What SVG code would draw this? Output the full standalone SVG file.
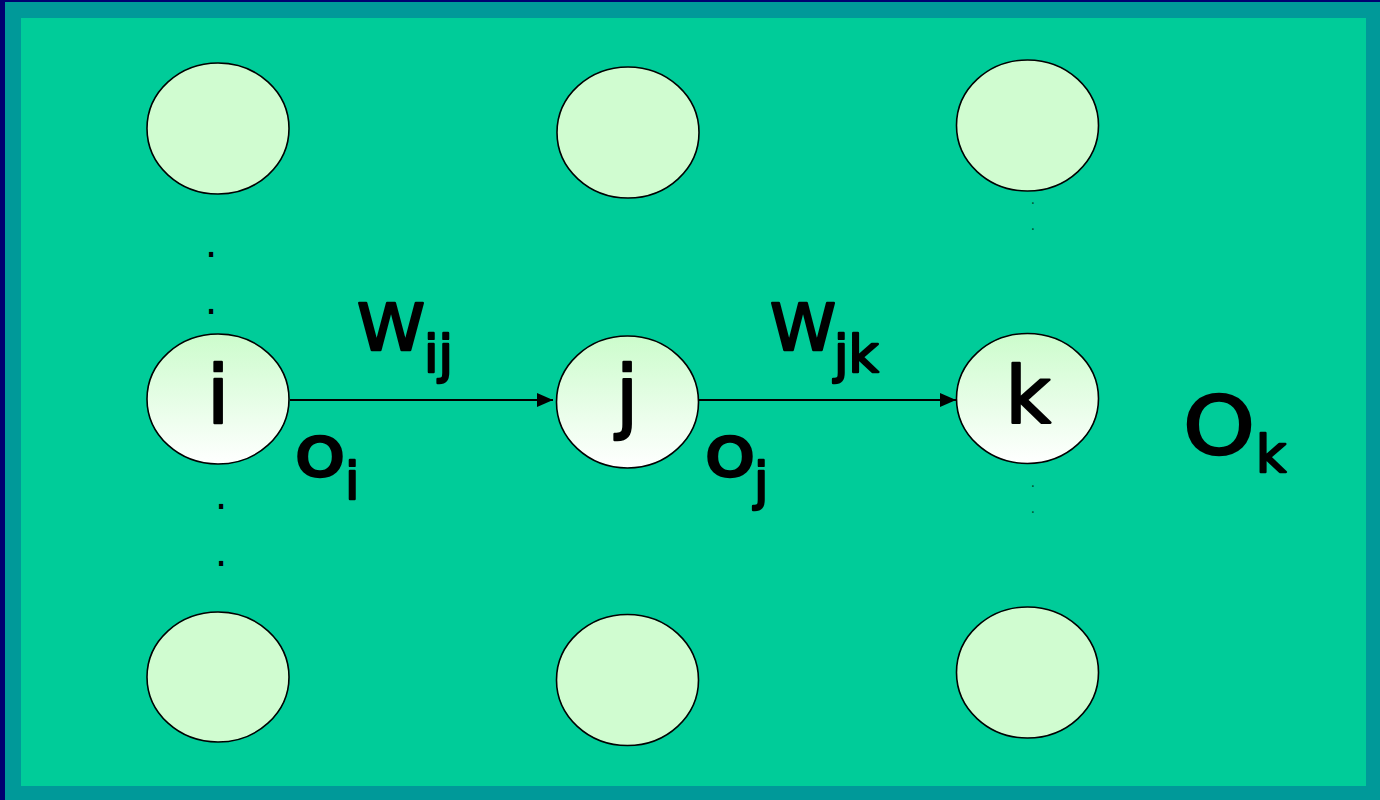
<svg xmlns="http://www.w3.org/2000/svg" width="1380" height="800" viewBox="0 0 1380 800">
<style>
.n{stroke:#000;stroke-width:1.6}
.plain{fill:#D0FCD0}
.grad{fill:url(#g)}
.t{font-family:"DejaVu Sans","Verdana",sans-serif;font-weight:normal;fill:#000;stroke:#000;stroke-width:2.4;stroke-linejoin:round}
.dot{font-family:"DejaVu Sans",sans-serif;text-anchor:middle}
.c{stroke:#000;stroke-width:2;fill:none;marker-end:url(#ah)}
</style>
<defs>
<linearGradient id="g" x1="0" y1="0" x2="0" y2="1">
<stop offset="0" stop-color="#CCFCCC"/>
<stop offset="1" stop-color="#FFFFFF"/>
</linearGradient>
<marker id="ah" markerWidth="16" markerHeight="14" refX="16" refY="7" orient="auto" markerUnits="userSpaceOnUse">
<path d="M0,0 L16,7 L0,14 Z" fill="#000"/>
</marker>
</defs>
<rect x="0" y="0" width="1380" height="800" fill="#000070"/>
<rect x="5" y="2" width="1375" height="798" fill="#009999"/>
<rect x="21" y="18" width="1345" height="768" fill="#00CC99"/>

<g id="connectors">
<line class="c" x1="290" y1="400" x2="553" y2="400"/>
<line class="c" x1="699" y1="400" x2="956" y2="400"/>
</g>

<g id="n-top-1"><ellipse class="n plain" cx="218" cy="128.5" rx="71" ry="65.5"/></g>
<g id="n-top-2"><ellipse class="n plain" cx="628" cy="132.5" rx="71" ry="65.5"/></g>
<g id="n-top-3"><ellipse class="n plain" cx="1027.5" cy="125.5" rx="71" ry="65.5"/></g>

<g id="node-i"><ellipse class="n grad" cx="218" cy="399" rx="71" ry="65"/><text class="t" x="218" y="423" font-size="80" text-anchor="middle">i</text></g>
<g id="node-j"><ellipse class="n grad" cx="627.5" cy="402" rx="71" ry="66"/><text class="t" x="627" y="423" font-size="80" text-anchor="middle">j</text></g>
<g id="node-k"><ellipse class="n grad" cx="1027.5" cy="398.5" rx="71" ry="65"/><text class="t" x="1028" y="423" font-size="78" text-anchor="middle">k</text></g>

<g id="n-bot-1"><ellipse class="n plain" cx="218" cy="677" rx="71" ry="65"/></g>
<g id="n-bot-2"><ellipse class="n plain" cx="627.5" cy="680" rx="71" ry="65.5"/></g>
<g id="n-bot-3"><ellipse class="n plain" cx="1027.5" cy="672.5" rx="71" ry="65.5"/></g>

<g id="labels">
<text class="t" x="357" y="350" font-size="64" textLength="68" lengthAdjust="spacingAndGlyphs">W</text>
<text class="t" x="424" y="372" font-size="52">ij</text>
<text class="t" x="770" y="350" font-size="64" textLength="66" lengthAdjust="spacingAndGlyphs">W</text>
<text class="t" x="834" y="372" font-size="52">jk</text>
<text class="t" x="294" y="476" font-size="72" textLength="52" lengthAdjust="spacingAndGlyphs">o</text>
<text class="t" x="345" y="499" font-size="52">i</text>
<text class="t" x="704" y="476" font-size="72" textLength="52" lengthAdjust="spacingAndGlyphs">o</text>
<text class="t" x="754" y="499" font-size="52">j</text>
<text class="t" x="1183" y="454" font-size="80" textLength="72" lengthAdjust="spacingAndGlyphs">O</text>
<text class="t" x="1256" y="472" font-size="52">k</text>
</g>

<g id="ellipsis">
<text class="dot" x="211" y="257" font-size="40" fill="#000">.</text>
<text class="dot" x="211" y="314" font-size="40" fill="#000">.</text>
<text class="dot" x="221" y="509" font-size="40" fill="#000">.</text>
<text class="dot" x="221" y="566" font-size="40" fill="#000">.</text>
<text class="dot" x="1033" y="204" font-size="14" fill="#005533">.</text>
<text class="dot" x="1033" y="230" font-size="14" fill="#005533">.</text>
<text class="dot" x="1033" y="487" font-size="14" fill="#005533">.</text>
<text class="dot" x="1033" y="513" font-size="14" fill="#005533">.</text>
</g>
</svg>
